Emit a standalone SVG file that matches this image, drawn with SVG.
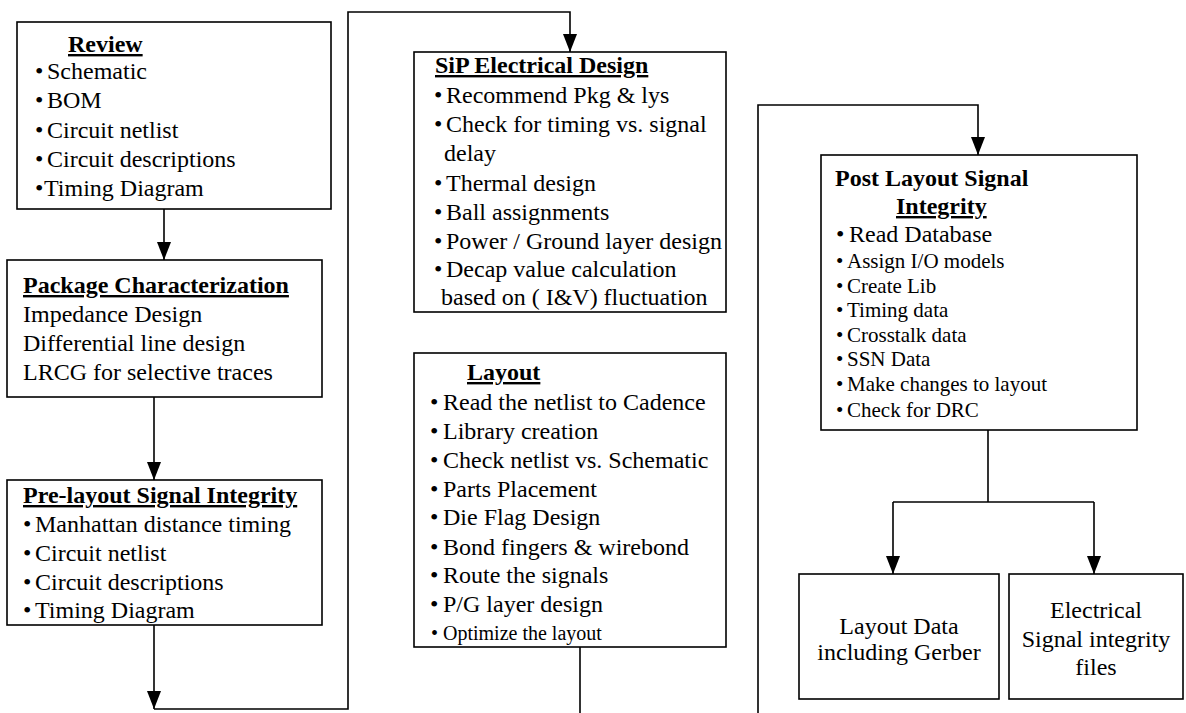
<svg xmlns="http://www.w3.org/2000/svg" width="1186" height="713" viewBox="0 0 1186 713">
<style>
  .box { fill: #fff; stroke: #000; stroke-width: 1.6; }
  .conn { fill: none; stroke: #000; stroke-width: 1.6; }
  text { font-family: "Liberation Serif", "Times New Roman", serif; font-size: 24px; fill: #000; }
  .t { font-weight: bold; }
  .u { text-decoration: underline; }
  .s20 { font-size: 20px; }
  .s21 { font-size: 21px; }
  .c { text-anchor: middle; }
</style>
<defs>
  <marker id="arr" markerUnits="userSpaceOnUse" markerWidth="18" markerHeight="14" refX="18" refY="7" orient="auto">
    <path d="M0,0 L18,7 L0,14 z" fill="#000"/>
  </marker>
</defs>
<rect width="1186" height="713" fill="#fff"/>

<g id="connectors">
  <path class="conn" d="M164,209 V260" marker-end="url(#arr)"/>
  <path class="conn" d="M154,397 V480" marker-end="url(#arr)"/>
  <path class="conn" d="M154,625 V709" marker-end="url(#arr)"/>
  <path class="conn" d="M154,709 H348 V12 H570 V52" marker-end="url(#arr)"/>
  <path class="conn" d="M580,647 V713"/>
  <path class="conn" d="M758,713 V105 H978 V155" marker-end="url(#arr)"/>
  <path class="conn" d="M988,430 V502"/>
  <path class="conn" d="M893,502 H1094"/>
  <path class="conn" d="M893,502 V574" marker-end="url(#arr)"/>
  <path class="conn" d="M1094,502 V574" marker-end="url(#arr)"/>
</g>

<g id="review">
  <rect class="box" x="17" y="22" width="314" height="187"/>
  <text class="t u" x="68" y="52">Review</text>
  <text y="79"><tspan x="35">•</tspan><tspan x="47">Schematic</tspan></text>
  <text y="108"><tspan x="35">•</tspan><tspan x="47">BOM</tspan></text>
  <text y="138"><tspan x="35">•</tspan><tspan x="47">Circuit netlist</tspan></text>
  <text y="167"><tspan x="35">•</tspan><tspan x="47">Circuit descriptions</tspan></text>
  <text y="196"><tspan x="35">•</tspan><tspan x="44">Timing Diagram</tspan></text>
</g>

<g id="package">
  <rect class="box" x="7" y="260" width="315" height="137"/>
  <text class="t u" x="23" y="293">Package Characterization</text>
  <text x="23" y="322">Impedance Design</text>
  <text x="23" y="351">Differential line design</text>
  <text x="23" y="380">LRCG for selective traces</text>
</g>

<g id="prelayout">
  <rect class="box" x="7" y="480" width="315" height="145"/>
  <text class="t u" x="23" y="503">Pre-layout Signal Integrity</text>
  <text y="532"><tspan x="23">•</tspan><tspan x="35">Manhattan distance timing</tspan></text>
  <text y="561"><tspan x="23">•</tspan><tspan x="35">Circuit netlist</tspan></text>
  <text y="590"><tspan x="23">•</tspan><tspan x="35">Circuit descriptions</tspan></text>
  <text y="618"><tspan x="23">•</tspan><tspan x="35">Timing Diagram</tspan></text>
</g>

<g id="sip">
  <rect class="box" x="414" y="52" width="312" height="260"/>
  <text class="t u" x="435" y="73">SiP Electrical Design</text>
  <text y="103"><tspan x="434">•</tspan><tspan x="446">Recommend Pkg &amp; lys</tspan></text>
  <text y="132"><tspan x="434">•</tspan><tspan x="446">Check for timing vs. signal</tspan></text>
  <text x="444" y="161">delay</text>
  <text y="191"><tspan x="434">•</tspan><tspan x="446">Thermal design</tspan></text>
  <text y="220"><tspan x="434">•</tspan><tspan x="446">Ball assignments</tspan></text>
  <text y="249"><tspan x="434">•</tspan><tspan x="446">Power / Ground layer design</tspan></text>
  <text y="277"><tspan x="434">•</tspan><tspan x="446">Decap value calculation</tspan></text>
  <text x="441" y="305">based on ( I&amp;V) fluctuation</text>
</g>

<g id="layout">
  <rect class="box" x="414" y="353" width="312" height="294"/>
  <text class="t u" x="467" y="380">Layout</text>
  <text y="410"><tspan x="430">•</tspan><tspan x="443">Read the netlist to Cadence</tspan></text>
  <text y="439"><tspan x="430">•</tspan><tspan x="443">Library creation</tspan></text>
  <text y="468"><tspan x="430">•</tspan><tspan x="443">Check netlist vs. Schematic</tspan></text>
  <text y="497"><tspan x="430">•</tspan><tspan x="443">Parts Placement</tspan></text>
  <text y="525"><tspan x="430">•</tspan><tspan x="443">Die Flag Design</tspan></text>
  <text y="555"><tspan x="430">•</tspan><tspan x="443">Bond fingers &amp; wirebond</tspan></text>
  <text y="583"><tspan x="430">•</tspan><tspan x="443">Route the signals</tspan></text>
  <text y="612"><tspan x="430">•</tspan><tspan x="443">P/G layer design</tspan></text>
  <text class="s20" y="640"><tspan x="431">•</tspan><tspan x="443">Optimize the layout</tspan></text>
</g>

<g id="postlayout">
  <rect class="box" x="821" y="155" width="316" height="275"/>
  <text class="t" x="835" y="186">Post Layout Signal</text>
  <text class="t u" x="896" y="214">Integrity</text>
  <text y="242"><tspan x="836">•</tspan><tspan x="849">Read Database</tspan></text>
  <text class="s21" y="268"><tspan x="836">•</tspan><tspan x="847">Assign I/O models</tspan></text>
  <text class="s21" y="293"><tspan x="836">•</tspan><tspan x="847">Create Lib</tspan></text>
  <text class="s21" y="317"><tspan x="836">•</tspan><tspan x="847">Timing data</tspan></text>
  <text class="s21" y="342"><tspan x="836">•</tspan><tspan x="847">Crosstalk data</tspan></text>
  <text class="s21" y="366"><tspan x="836">•</tspan><tspan x="847">SSN Data</tspan></text>
  <text class="s21" y="391"><tspan x="836">•</tspan><tspan x="847">Make changes to layout</tspan></text>
  <text class="s21" y="417"><tspan x="836">•</tspan><tspan x="847">Check for DRC</tspan></text>
</g>

<g id="layoutdata">
  <rect class="box" x="799" y="574" width="200" height="125"/>
  <text class="c" x="899" y="634">Layout Data</text>
  <text class="c" x="899" y="660">including Gerber</text>
</g>

<g id="sifiles">
  <rect class="box" x="1009" y="574" width="174" height="125"/>
  <text class="c" x="1096" y="618">Electrical</text>
  <text class="c" x="1096" y="647">Signal integrity</text>
  <text class="c" x="1096" y="675">files</text>
</g>
</svg>
